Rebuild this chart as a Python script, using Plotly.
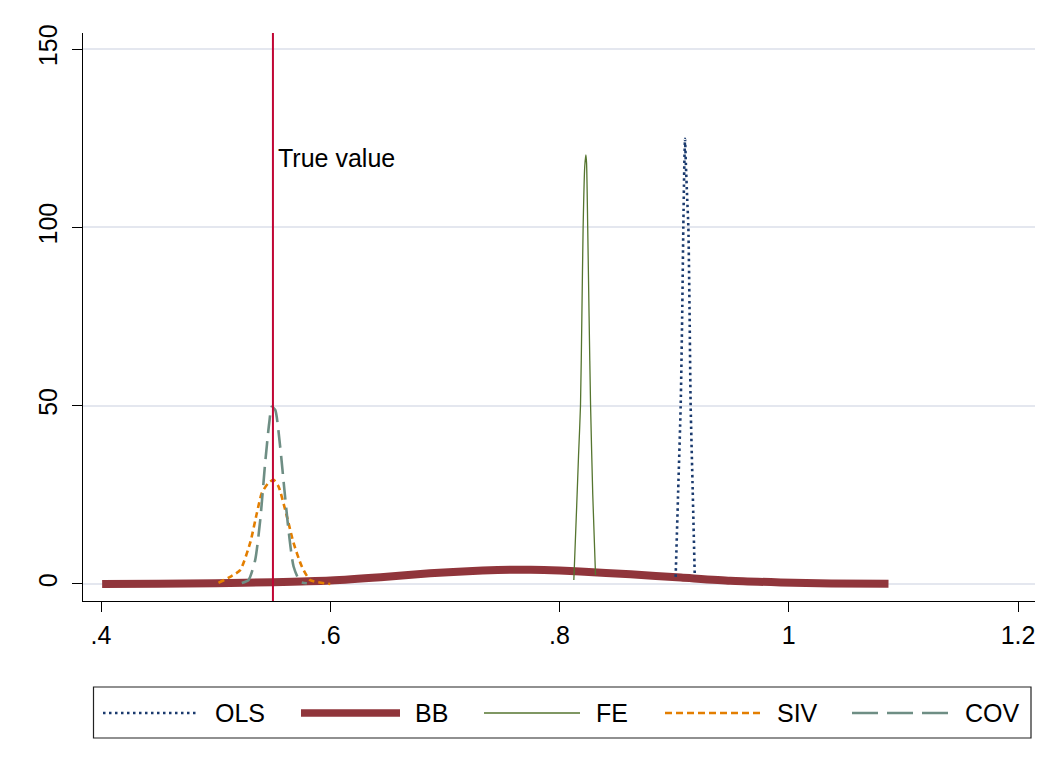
import plotly.graph_objects as go

# ---------------- data ----------------
ols_x = [0.9013, 0.9035, 0.9057, 0.9070, 0.9080, 0.9089, 0.9095, 0.9102, 0.9114, 0.9124, 0.9135, 0.9144, 0.9162, 0.9180]
ols_y = [2.0, 26.0, 50.0, 75.0, 100.0, 118.0, 124.8, 118.0, 108.0, 100.0, 75.0, 50.0, 26.0, 2.0]

bb_x = [0.401, 0.450, 0.500, 0.550, 0.600, 0.644, 0.687, 0.720, 0.746, 0.775, 0.800, 0.818, 0.862, 0.906, 0.949, 0.993, 1.037, 1.087]
bb_y = [0.00, 0.05, 0.20, 0.50, 1.00, 1.90, 3.00, 3.60, 3.90, 4.00, 3.80, 3.50, 2.70, 1.80, 0.90, 0.45, 0.15, 0.05]

fe_x = [0.8125, 0.8150, 0.8166, 0.8183, 0.8195, 0.8206, 0.8220, 0.8230, 0.8236, 0.8246, 0.8258, 0.8271, 0.8290, 0.8314]
fe_y = [1.1, 22.0, 36.0, 50.0, 75.0, 100.0, 117.0, 120.3, 118.0, 100.0, 75.0, 50.0, 25.0, 2.5]

siv_x = [0.5025, 0.5127, 0.5214, 0.5301, 0.5360, 0.5403, 0.5460, 0.5505, 0.5549, 0.5622, 0.5680, 0.5752, 0.5825, 0.6000]
siv_y = [0.3, 2.0, 3.9, 11.5, 19.9, 25.5, 28.3, 29.2, 27.3, 18.9, 11.5, 4.9, 1.1, 0.0]

cov_x = [0.5228, 0.5287, 0.5345, 0.5389, 0.5432, 0.5467, 0.5490, 0.5520, 0.5563, 0.5600, 0.5636, 0.5680, 0.5738, 0.5796]
cov_y = [0.3, 1.1, 6.7, 17.9, 33.9, 45.0, 49.7, 48.8, 38.5, 26.4, 15.1, 4.9, 0.6, 0.2]

true_value = 0.55
true_label = "True value"
true_label_y = 119.4

x_ticks = [0.4, 0.6, 0.8, 1.0, 1.2]
x_tick_labels = [".4", ".6", ".8", "1", "1.2"]
y_ticks = [0, 50, 100, 150]
y_tick_labels = ["0", "50", "100", "150"]

series_names = ["OLS", "BB", "FE", "SIV", "COV"]

# ---------------- styles ----------------
FONT = "Liberation Sans, Arial, sans-serif"
FS = 25
styles = {
    "OLS": dict(color="#1a3a6e", width=2.6, dash="2.5px,3.5px"),
    "BB": dict(color="#90353b", width=8, dash="solid"),
    "FE": dict(color="#55752f", width=1.3, dash="solid"),
    "SIV": dict(color="#e37e00", width=2.6, dash="6px,4px"),
    "COV": dict(color="#6e8e84", width=2.6, dash="18px,8px"),
}
legend_dash = {
    "OLS": "2.5px,3.5px",
    "BB": "solid",
    "FE": "solid",
    "SIV": "7px,4px",
    "COV": "26px,9px",
}
data = {
    "OLS": (ols_x, ols_y),
    "BB": (bb_x, bb_y),
    "FE": (fe_x, fe_y),
    "SIV": (siv_x, siv_y),
    "COV": (cov_x, cov_y),
}

OFF = 8  # page body margin
W, H = 1052 - OFF, 769 - OFF
L, T = 83 - OFF, 33 - OFF
R = W - (1035 - OFF)
B = H - (601 - OFF)
PW, PH = W - L - R, H - T - B


def px_x(p):
    return (p - OFF - L) / PW


def px_y(p):
    return (H - B - (p - OFF)) / PH


fig = go.Figure()

# BB drawn first (behind), then the others
for name in ["BB", "OLS", "FE", "SIV", "COV"]:
    xs, ys = data[name]
    st = styles[name]
    fig.add_trace(go.Scatter(
        x=xs, y=ys, mode="lines", name=name,
        line=dict(color=st["color"], width=st["width"], dash=st["dash"],
                  shape="spline", smoothing=0.6),
        showlegend=False,
    ))

shapes = []
shapes.append(dict(type="line", xref="x", yref="paper", x0=true_value, x1=true_value,
                   y0=0, y1=1, line=dict(color="#c10534", width=2), layer="above"))
shapes.append(dict(type="line", xref="paper", yref="paper", x0=px_x(8), x1=px_x(1052),
                   y0=px_y(5), y1=px_y(5), line=dict(color="#e6e8ee", width=1.5)))

annotations = [dict(x=true_value, y=true_label_y, xref="x", yref="y", text=true_label,
                    showarrow=False, xanchor="left", yanchor="middle", xshift=3,
                    font=dict(family=FONT, size=FS, color="#000000"))]

shapes.append(dict(type="rect", xref="paper", yref="paper",
                   x0=px_x(93.5), x1=px_x(1031), y0=px_y(738), y1=px_y(687),
                   line=dict(color="#222222", width=1.2), fillcolor="rgba(0,0,0,0)"))
leg_samples = [(103, 197, 215), (301, 400, 415), (484, 580, 596), (665, 760, 777), (852, 948, 965)]
leg_y = 713
for name, (s0, s1, tx) in zip(series_names, leg_samples):
    st = styles[name]
    shapes.append(dict(type="line", xref="paper", yref="paper",
                       x0=px_x(s0), x1=px_x(s1), y0=px_y(leg_y), y1=px_y(leg_y),
                       line=dict(color=st["color"], width=st["width"] if name != "BB" else 7.5,
                                 dash=legend_dash[name])))
    annotations.append(dict(x=px_x(tx), y=px_y(leg_y), xref="paper", yref="paper",
                            text=name, showarrow=False, xanchor="left", yanchor="middle",
                            xshift=-2, font=dict(family=FONT, size=FS, color="#000000")))

fig.update_layout(
    width=W, height=H, autosize=False,
    margin=dict(l=L, r=R, t=T, b=B, pad=0),
    paper_bgcolor="white", plot_bgcolor="white",
    font=dict(family=FONT, size=FS, color="#000000"),
    shapes=shapes, annotations=annotations,
    showlegend=False,
    xaxis=dict(range=[0.3843, 1.2148], tickmode="array", tickvals=x_ticks,
               ticktext=x_tick_labels, ticks="outside", ticklen=10, tickwidth=1.2,
               tickcolor="#000000", showline=True, linecolor="#000000", linewidth=1.2,
               showgrid=False, zeroline=False, ticklabelstandoff=2,
               tickfont=dict(family=FONT, size=FS)),
    yaxis=dict(range=[-4.77, 154.49], tickmode="array", tickvals=y_ticks,
               ticktext=y_tick_labels, ticks="outside", ticklen=10, tickwidth=1.2,
               tickcolor="#000000", showline=True, linecolor="#000000", linewidth=1.2,
               showgrid=True, gridcolor="#e4e7ef", gridwidth=2, zeroline=False,
               tickangle=-90, ticklabelstandoff=5,
               tickfont=dict(family=FONT, size=FS)),
)

fig.write_html("out.html")
